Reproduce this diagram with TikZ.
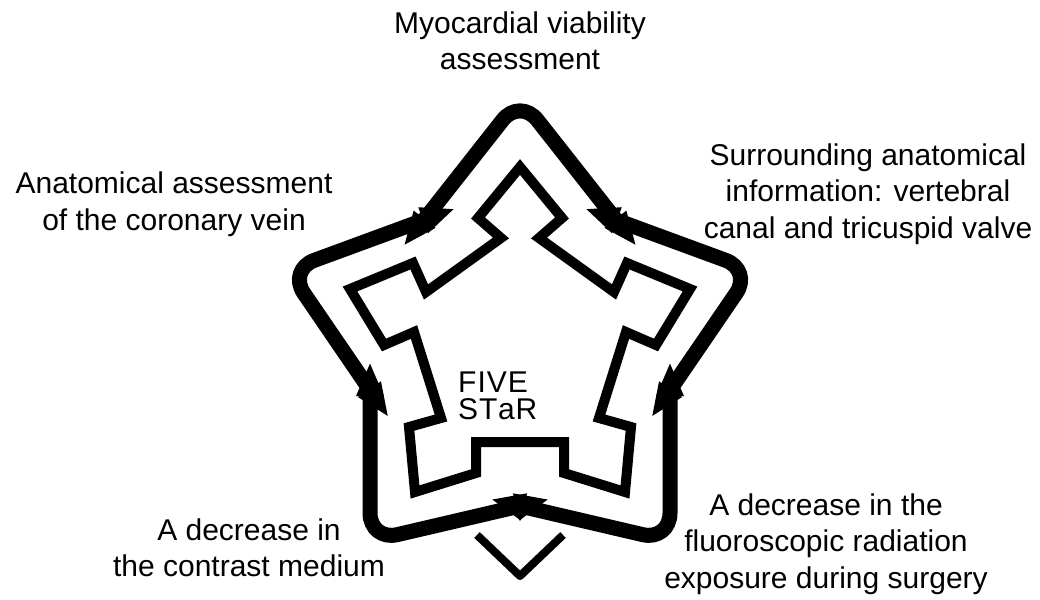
\documentclass[tikz,border=0pt]{standalone}
\usepackage{fontspec}
\setmainfont{Liberation Sans}
\usetikzlibrary{arrows.meta, calc}

\begin{document}
\begin{tikzpicture}[
  x=1pt, y=-1pt,
  every node/.style={font=\fontsize{30}{36.5}\selectfont, align=center, inner sep=0pt},
  ring/.style={line width=15pt, rounded corners=28pt,
    {Triangle[length=34pt, width=25pt]}-{Triangle[length=34pt, width=25pt]}},
  fort/.style={line width=10pt},
  chev/.style={line width=8pt, line join=round},
  logo/.style={font=\fontsize{30}{30}\selectfont, anchor=base west}
]
\useasboundingbox (0,0) rectangle (1040,599);

% Outer star: five points and five notches
\coordinate (pt) at (520,98);
\coordinate (pr) at (752,270);
\coordinate (pbr) at (670,541);
\coordinate (pbl) at (370,541);
\coordinate (pl) at (288,270);
\coordinate (jur) at (616,220);
\coordinate (jlr) at (670,390);
\coordinate (jb) at (520,506);
\coordinate (jll) at (370,390);
\coordinate (jul) at (424,220);

% Arrows round the star
\draw[ring] ($(jul)!-33pt!(pt)$) -- (pt) -- ($(jur)!-33pt!(pt)$);
\draw[ring] ($(jur)!-33pt!(pr)$) -- (pr) -- ($(jlr)!-33pt!(pr)$);
\draw[ring] ($(jlr)!-28pt!(pbr)$) -- (pbr) -- ($(jb)!-30pt!(pbr)$);
\draw[ring] ($(jb)!-30pt!(pbl)$) -- (pbl) -- ($(jll)!-28pt!(pbl)$);
\draw[ring] ($(jll)!-33pt!(pl)$) -- (pl) -- ($(jul)!-33pt!(pl)$);

% Inner fort
\draw[fort] (520,167) -- (562,218) -- (539,238) -- (614,292) -- (627,263)
  -- (690,289) -- (656,345) -- (626,332) -- (599,418) -- (631,427)
  -- (625,492) -- (564,473) -- (564,442) -- (476,442) -- (476,473)
  -- (415,492) -- (409,427) -- (441,418) -- (414,332) -- (384,345)
  -- (350,289) -- (413,263) -- (426,292) -- (501,238) -- (478,218) -- cycle;

% Open point below
\draw[chev] (477,535) -- (520,576) -- (563,535);

% Labels
\node (myo) at (520,41) {Myocardial viability\\assessment};
\node (anat) at (174,204) {Anatomical assessment\\of the coronary vein};
\node (surr) at (868,194) {Surrounding anatomical\\information: vertebral\\canal and tricuspid valve};
\node (decc) at (249,548) {A decrease in\\the contrast medium};
\node (decf) at (826,544) {A decrease in the\\fluoroscopic radiation\\exposure during surgery};
\node[logo] (five) at (458,392) {F\kern1pt I\kern1pt V\kern1pt E};
\node[logo] (star) at (458,419) {S\kern1pt T\kern0.5pt a\kern1pt R};
\end{tikzpicture}
\end{document}
